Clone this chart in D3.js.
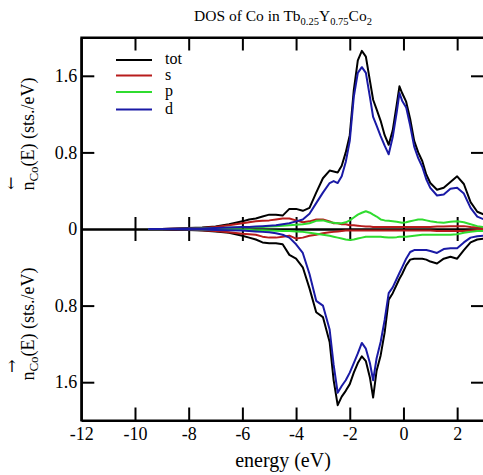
<!DOCTYPE html>
<html>
<head>
<meta charset="utf-8">
<script src="https://cdn.jsdelivr.net/npm/d3@7"></script>
<style>
  html, body { margin: 0; padding: 0; background: #fff; }
  svg text { font-family: "Liberation Serif" !important; }
  svg text.arrow { font-family: "DejaVu Serif" !important; }
</style>
</head>
<body>
<svg id="chart" width="483" height="475" font-family="Liberation Serif"></svg>
<script>
// Energy grid (eV), shared by all projected densities of states
const energy = [-9.5, -9, -8.5, -8, -7.5, -7, -6.5, -6, -5.75, -5.5, -5.25, -5,
  -4.75, -4.5, -4.25, -4, -3.75, -3.5, -3.25, -3, -2.75, -2.6, -2.45, -2.3,
  -2.15, -2, -1.85, -1.7, -1.55, -1.4, -1.25, -1.13, -1, -0.85, -0.7, -0.55,
  -0.4, -0.25, -0.15, -0.05, 0.1, 0.25, 0.4, 0.55, 0.7, 0.85, 1, 1.25,
  1.5, 1.75, 2, 2.25, 2.5, 2.75, 3];

// Spin-down channel (plotted upwards), sts./eV
const dnTot = [0, 0, 0.005, 0.01, 0.015, 0.025, 0.05, 0.08, 0.10, 0.11, 0.13, 0.15,
  0.15, 0.14, 0.21, 0.21, 0.19, 0.22, 0.38, 0.53, 0.61, 0.60, 0.59, 0.66,
  0.80, 0.98, 1.45, 1.76, 1.86, 1.80, 1.55, 1.35, 1.25, 1.13, 0.98, 0.88,
  1.03, 1.30, 1.49, 1.42, 1.33, 1.15, 0.92, 0.80, 0.71, 0.57, 0.48, 0.41,
  0.43, 0.49, 0.55, 0.47, 0.28, 0.18, 0.15];
const dnS = [0, 0, 0.002, 0.005, 0.01, 0.02, 0.04, 0.06, 0.07, 0.08, 0.085, 0.09,
  0.10, 0.11, 0.11, 0.09, 0.07, 0.08, 0.10, 0.10, 0.08, 0.06, 0.06, 0.05,
  0.05, 0.04, 0.04, 0.035, 0.03, 0.025, 0.025, 0.02, 0.02, 0.02, 0.02, 0.02,
  0.02, 0.02, 0.02, 0.02, 0.02, 0.02, 0.02, 0.02, 0.02, 0.02, 0.02, 0.025,
  0.025, 0.03, 0.03, 0.03, 0.02, 0.015, 0.01];
const dnP = [0, 0, 0, 0.002, 0.005, 0.008, 0.012, 0.015, 0.018, 0.02, 0.022, 0.025,
  0.03, 0.035, 0.04, 0.045, 0.05, 0.06, 0.085, 0.09, 0.07, 0.065, 0.06, 0.06,
  0.07, 0.09, 0.12, 0.15, 0.17, 0.185, 0.17, 0.15, 0.13, 0.10, 0.09, 0.085,
  0.08, 0.075, 0.07, 0.065, 0.07, 0.08, 0.09, 0.10, 0.10, 0.09, 0.08, 0.07,
  0.065, 0.075, 0.08, 0.07, 0.05, 0.03, 0.02];
const dnD = [0, 0, 0.002, 0.004, 0.006, 0.01, 0.015, 0.02, 0.02, 0.025, 0.03, 0.035,
  0.04, 0.05, 0.06, 0.08, 0.10, 0.16, 0.27, 0.38, 0.48, 0.50, 0.48, 0.55,
  0.70, 0.92, 1.38, 1.63, 1.69, 1.63, 1.38, 1.17, 1.08, 0.97, 0.87, 0.78,
  0.96, 1.22, 1.42, 1.34, 1.27, 1.08, 0.86, 0.74, 0.65, 0.52, 0.43, 0.35,
  0.36, 0.42, 0.43, 0.37, 0.22, 0.13, 0.10];

// Spin-up channel (plotted downwards), sts./eV
const upTot = [0, 0, 0.005, 0.01, 0.015, 0.025, 0.04, 0.07, 0.09, 0.11, 0.14, 0.15,
  0.15, 0.16, 0.27, 0.31, 0.40, 0.62, 0.87, 0.92, 1.18, 1.58, 1.84, 1.75,
  1.69, 1.62, 1.50, 1.40, 1.33, 1.38, 1.55, 1.76, 1.48, 1.32, 1.08, 0.74,
  0.67, 0.58, 0.52, 0.47, 0.38, 0.32, 0.31, 0.31, 0.31, 0.32, 0.34, 0.36,
  0.31, 0.29, 0.31, 0.22, 0.14, 0.11, 0.10];
const upS = [0, 0, 0.003, 0.006, 0.012, 0.02, 0.035, 0.05, 0.055, 0.06, 0.08, 0.09,
  0.09, 0.08, 0.07, 0.10, 0.09, 0.07, 0.06, 0.045, 0.035, 0.03, 0.025, 0.02,
  0.015, 0.015, 0.015, 0.015, 0.015, 0.015, 0.015, 0.015, 0.015, 0.015, 0.015, 0.015,
  0.015, 0.015, 0.015, 0.015, 0.015, 0.015, 0.015, 0.015, 0.015, 0.015, 0.015, 0.02,
  0.02, 0.02, 0.02, 0.02, 0.015, 0.01, 0.01];
const upP = [0, 0, 0, 0.002, 0.004, 0.006, 0.008, 0.01, 0.011, 0.012, 0.013, 0.015,
  0.017, 0.02, 0.022, 0.025, 0.03, 0.04, 0.05, 0.06, 0.07, 0.08, 0.09, 0.10,
  0.11, 0.115, 0.11, 0.10, 0.09, 0.08, 0.08, 0.08, 0.08, 0.08, 0.085, 0.09,
  0.09, 0.085, 0.08, 0.08, 0.08, 0.075, 0.07, 0.065, 0.06, 0.06, 0.06, 0.06,
  0.06, 0.06, 0.055, 0.04, 0.03, 0.02, 0.02];
const upD = [0, 0, 0.002, 0.004, 0.006, 0.01, 0.012, 0.015, 0.02, 0.025, 0.03, 0.035,
  0.045, 0.06, 0.09, 0.16, 0.25, 0.47, 0.75, 0.80, 1.05, 1.42, 1.71, 1.64,
  1.58, 1.50, 1.40, 1.30, 1.19, 1.25, 1.40, 1.58, 1.35, 1.18, 0.95, 0.67,
  0.61, 0.52, 0.46, 0.40, 0.31, 0.24, 0.22, 0.22, 0.22, 0.22, 0.23, 0.25,
  0.21, 0.20, 0.20, 0.14, 0.09, 0.075, 0.07];

// Legend entries and tick values
const legendLabels = ["tot", "s", "p", "d"];
const xTicks = [-12, -10, -8, -6, -4, -2, 0, 2];
const yTicks = [-1.6, -0.8, 0, 0.8, 1.6];

const colors = { tot: "#000000", s: "#b81c1c", p: "#2fdc2f", d: "#1a1aa6" };

const svg = d3.select("#chart");
const plotLeft = 81.3, plotRight = 484, plotTop = 37.5, plotBottom = 420.5;

const x = d3.scaleLinear().domain([-12, 3]).range([plotLeft, plotRight]);
const y = d3.scaleLinear().domain([-2, 2]).range([plotBottom, plotTop]);

const TICK = 13;
const fmtX = d => String(d);
const fmtY = d => String(Math.abs(d));

function setFont(sel, size) {
  return sel.style("font-family", "Liberation Serif").style("font-size", size + "px");
}

function styleAxis(g) {
  g.attr("font-family", null).attr("font-size", null);
  g.selectAll("path.domain").attr("stroke", "#000").attr("stroke-width", 2);
  g.selectAll(".tick line").attr("stroke", "#000").attr("stroke-width", 2);
  g.selectAll(".tick text").attr("fill", "#000").call(setFont, 18);
}

// Zero line with ticks crossing it in both directions
const zeroTicks = xTicks.filter(d => d > -12);
svg.append("g").attr("transform", `translate(0,${y(0)})`)
  .call(d3.axisBottom(x).tickValues(zeroTicks).tickSize(12).tickSizeOuter(0).tickFormat(""))
  .call(styleAxis);
svg.append("g").attr("transform", `translate(0,${y(0)})`)
  .call(d3.axisTop(x).tickValues(zeroTicks).tickSize(12).tickSizeOuter(0).tickFormat(""))
  .call(styleAxis);

// Curves
const series = [
  { key: "tot", dn: dnTot, up: upTot },
  { key: "s", dn: dnS, up: upS },
  { key: "p", dn: dnP, up: upP },
  { key: "d", dn: dnD, up: upD }
];
svg.append("clipPath").attr("id", "plotclip")
  .append("rect").attr("x", plotLeft).attr("y", plotTop)
  .attr("width", plotRight - plotLeft).attr("height", plotBottom - plotTop);

const lineDn = vals => d3.line().x((d, i) => x(energy[i])).y(d => y(d))(vals);
const lineUp = vals => d3.line().x((d, i) => x(energy[i])).y(d => y(-d))(vals);

const curves = svg.append("g").attr("clip-path", "url(#plotclip)");
series.forEach(s => {
  curves.append("path").attr("d", lineDn(s.dn)).attr("fill", "none")
    .attr("stroke", colors[s.key]).attr("stroke-width", 2).attr("stroke-linejoin", "round");
  curves.append("path").attr("d", lineUp(s.up)).attr("fill", "none")
    .attr("stroke", colors[s.key]).attr("stroke-width", 2).attr("stroke-linejoin", "round");
});

// Frame axes, ticks pointing inwards
const inner = xTicks.filter(d => d > -12);
const yInner = yTicks.filter(d => d !== 0);

svg.append("g").attr("transform", `translate(0,${plotBottom})`)
  .call(d3.axisBottom(x).tickValues(xTicks).tickSizeInner(0).tickSizeOuter(0).tickPadding(7).tickFormat(fmtX))
  .call(styleAxis)
  .call(g => g.selectAll(".tick line").remove());
svg.append("g").attr("transform", `translate(0,${plotBottom})`)
  .call(d3.axisTop(x).tickValues(inner).tickSize(TICK).tickSizeOuter(0).tickFormat(""))
  .call(styleAxis);
svg.append("g").attr("transform", `translate(0,${plotTop})`)
  .call(d3.axisBottom(x).tickValues(inner).tickSize(TICK).tickSizeOuter(0).tickFormat(""))
  .call(styleAxis);

svg.append("g").attr("transform", `translate(${plotLeft},0)`)
  .call(d3.axisLeft(y).tickValues(yTicks).tickSizeInner(0).tickSizeOuter(0).tickPadding(4).tickFormat(fmtY))
  .call(styleAxis);
svg.append("g").attr("transform", `translate(${plotLeft},0)`)
  .call(d3.axisRight(y).tickValues(yInner).tickSize(TICK).tickSizeOuter(0).tickFormat(""))
  .call(styleAxis);
svg.append("g").attr("transform", `translate(${plotRight},0)`)
  .call(d3.axisLeft(y).tickValues(yInner).tickSize(TICK).tickSizeOuter(0).tickFormat(""))
  .call(styleAxis);

svg.append("rect").attr("x", plotLeft).attr("y", plotTop)
  .attr("width", plotRight - plotLeft).attr("height", plotBottom - plotTop)
  .attr("fill", "none").attr("stroke", "#000").attr("stroke-width", 2);

// Legend
const legY = [60, 75.5, 92, 109.5];
const leg = svg.append("g");
legendLabels.forEach((lab, i) => {
  leg.append("line").attr("x1", 116).attr("x2", 152).attr("y1", legY[i]).attr("y2", legY[i])
    .attr("stroke", colors[lab]).attr("stroke-width", 2);
  leg.append("text").attr("x", 165).attr("y", legY[i] + 4).call(setFont, 16).text(lab);
});

// Title
const heading = svg.append("text").attr("x", 283).attr("y", 21).attr("text-anchor", "middle").call(setFont, 15.5);
heading.append("tspan").text("DOS of Co in Tb");
heading.append("tspan").attr("dy", 4).style("font-size", "10.5px").text("0.25");
heading.append("tspan").attr("dy", -4).text("Y");
heading.append("tspan").attr("dy", 4).style("font-size", "10.5px").text("0.75");
heading.append("tspan").attr("dy", -4).text("Co");
heading.append("tspan").attr("dy", 4).style("font-size", "10.5px").text("2");

// Axis titles
svg.append("text").attr("x", 283).attr("y", 467).attr("text-anchor", "middle")
  .call(setFont, 20).text("energy (eV)");

function yTitle(cy, arrow, ax, ay) {
  const t = svg.append("text").attr("transform", `translate(34,${cy}) rotate(-90)`)
    .attr("text-anchor", "middle").call(setFont, 18);
  t.append("tspan").text("n");
  t.append("tspan").attr("dy", 4).style("font-size", "13px").text("Co");
  t.append("tspan").attr("dy", -4).text("(E) (sts./eV)");
  svg.append("text").attr("class", "arrow").attr("x", ax).attr("y", ay).attr("text-anchor", "middle")
    .style("font-size", "16px").text(arrow);
}
yTitle(134, "↓", 11, 189);
yTitle(324, "↑", 12, 372);
</script>
</body>
</html>
